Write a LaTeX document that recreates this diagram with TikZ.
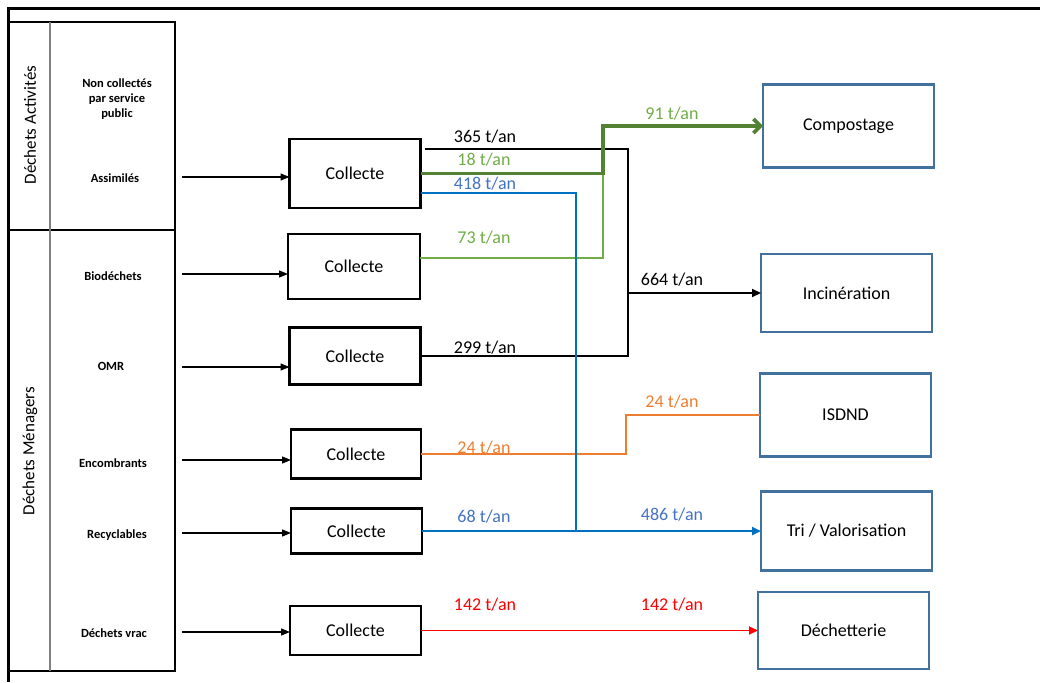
\documentclass[tikz,border=0pt]{standalone}
\usepackage{fontspec}
\setmainfont{Carlito}
\usetikzlibrary{arrows.meta}
\definecolor{dgreen}{HTML}{548235}
\definecolor{lgreen}{HTML}{70AD47}
\definecolor{lblue}{HTML}{0070C0}
\definecolor{tblue}{HTML}{4472C4}
\definecolor{orng}{HTML}{ED7D31}
\definecolor{dbord}{HTML}{41719C}
\definecolor{redc}{HTML}{FF0000}
\begin{document}
\begin{tikzpicture}[x=1pt,y=-1pt,
 every node/.style={inner sep=0pt, outer sep=0pt},
 collect/.style={draw=black, line width=2.1pt, font=\fontsize{18}{21}\selectfont},
 dest/.style={draw=dbord, line width=2.1pt, minimum width=171pt, font=\fontsize{18}{21}\selectfont},
 item/.style={font=\bfseries\fontsize{12.5}{15}\selectfont, align=center},
 itembase/.style={item, anchor=base},
 side/.style={rotate=90, font=\fontsize{17}{20}\selectfont},
 qty/.style={anchor=base, font=\fontsize{18}{21}\selectfont},
 inarrow/.style={line width=1.2pt, -{Triangle[length=9pt,width=7pt]}},
 headtri/.style={-{Triangle[length=9pt,width=8pt]}},
]
\useasboundingbox (0,0) rectangle (1040,682);

% outer frame
\draw[line width=3pt] (8,682) -- (8,9) -- (1040,9);

% table
\draw[line width=2.3pt] (8,22) rectangle (175,671);
\draw[line width=2.3pt] (8,230) -- (175,230);
\draw[gray, line width=1.4pt] (50,22) -- (50,671);

\node[side] (da) at (30,125) {Déchets Activités};
\node[side] (dm) at (30,451) {Déchets Ménagers};

\node[item] (nc) at (117,99) {Non collectés\\par service\\public};
\node[itembase] (as) at (115,182) {Assimilés};
\node[itembase] (bio) at (113,280) {Biodéchets};
\node[itembase] (omr) at (111,370) {OMR};
\node[itembase] (enc) at (113,467) {Encombrants};
\node[itembase] (rec) at (117,538) {Recyclables};
\node[itembase] (vrac) at (114,637) {Déchets vrac};

% collecte boxes
\node[collect, minimum width=131pt, minimum height=69pt] (c1) at (355,173.5) {Collecte};
\node[collect, minimum width=132pt, minimum height=65pt] (c2) at (354,266.5) {Collecte};
\node[collect, minimum width=131pt, minimum height=57pt] (c3) at (355,356) {Collecte};
\node[collect, minimum width=130pt, minimum height=49pt] (c4) at (356,454) {Collecte};
\node[collect, minimum width=131pt, minimum height=45pt] (c5) at (356.5,531) {Collecte};
\node[collect, minimum width=131pt, minimum height=49pt] (c6) at (355.5,630.5) {Collecte};

% destination boxes
\node[dest, minimum height=83pt] (comp) at (848.5,126) {Compostage};
\node[dest, minimum height=78pt] (inc) at (846.5,293) {Incinération};
\node[dest, minimum height=83pt] (isd) at (845.5,415) {ISDND};
\node[dest, minimum height=79pt] (tri) at (846.5,531) {Tri / Valorisation};
\node[dest, minimum height=77pt] (dech) at (843.5,630.5) {Déchetterie};

% input arrows
\coordinate (i1) at (182,177);
\coordinate (i2) at (182,274);
\coordinate (i3) at (182,367);
\coordinate (i4) at (182,460);
\coordinate (i5) at (182,533);
\coordinate (i6) at (182,632);
\draw[inarrow] (i1) -- (i1 -| c1.west);
\draw[inarrow] (i2) -- (i2 -| c2.west);
\draw[inarrow] (i3) -- (i3 -| c3.west);
\draw[inarrow] (i4) -- (i4 -| c4.west);
\draw[inarrow] (i5) -- (i5 -| c5.west);
\draw[inarrow] (i6) -- (i6 -| c6.west);

% junction coordinates
\coordinate (bk1) at (628,149);
\coordinate (bk2) at (628,356);
\coordinate (bk3) at (628,293);
\coordinate (g1) at (603,173.5);
\coordinate (g2) at (603,126);
\coordinate (g3) at (603,258);
\coordinate (b1) at (576,193);
\coordinate (b2) at (576,531);
\coordinate (o1) at (626,454);
\coordinate (o2) at (626,415);

% black flows
\draw[line width=2pt] ([shift={(4pt,24.5pt)}]c1.east) -- (bk1) -- (bk2) -- (c3.east);
\draw[line width=2pt, headtri] (bk3) -- (inc.west);

% green flows
\draw[lgreen, line width=1.8pt] ([yshift=8.5pt]c2.east) -- (g3) -- (g1);
\draw[dgreen, line width=3.6pt, -{Straight Barb[length=7pt,width=14pt]}] (c1.east) -- (g1) -- (g2) -- (comp.west);

% orange flow
\draw[orng, line width=2.6pt] (c4.east) -- (o1) -- (o2) -- (isd.west);

% blue flows
\draw[lblue, line width=1.8pt] ([yshift=-19.5pt]c1.east) -- (b1) -- (b2);
\draw[lblue, line width=1.8pt] (c5.east) -- (b2);
\draw[lblue, line width=2.8pt, headtri] (b2) -- (tri.west);

% red flow
\draw[redc, line width=1.8pt, headtri] (c6.east) -- (dech.west);

% quantities
\node[qty] (q1) at (485,142) {365 t/an};
\node[qty, lgreen] (q2) at (484,165) {18 t/an};
\node[qty, tblue] (q3) at (485,189) {418 t/an};
\node[qty, lgreen] (q4) at (484,243) {73 t/an};
\node[qty, lgreen] (q5) at (672,119) {91 t/an};
\node[qty] (q6) at (672,285) {664 t/an};
\node[qty] (q7) at (485,353) {299 t/an};
\node[qty, orng] (q8) at (672,407) {24 t/an};
\node[qty, orng] (q9) at (484,453) {24 t/an};
\node[qty, tblue] (q10) at (484,522) {68 t/an};
\node[qty, tblue] (q11) at (672,520) {486 t/an};
\node[qty, redc] (q12) at (485,610) {142 t/an};
\node[qty, redc] (q13) at (672,610) {142 t/an};
\end{tikzpicture}
\end{document}
